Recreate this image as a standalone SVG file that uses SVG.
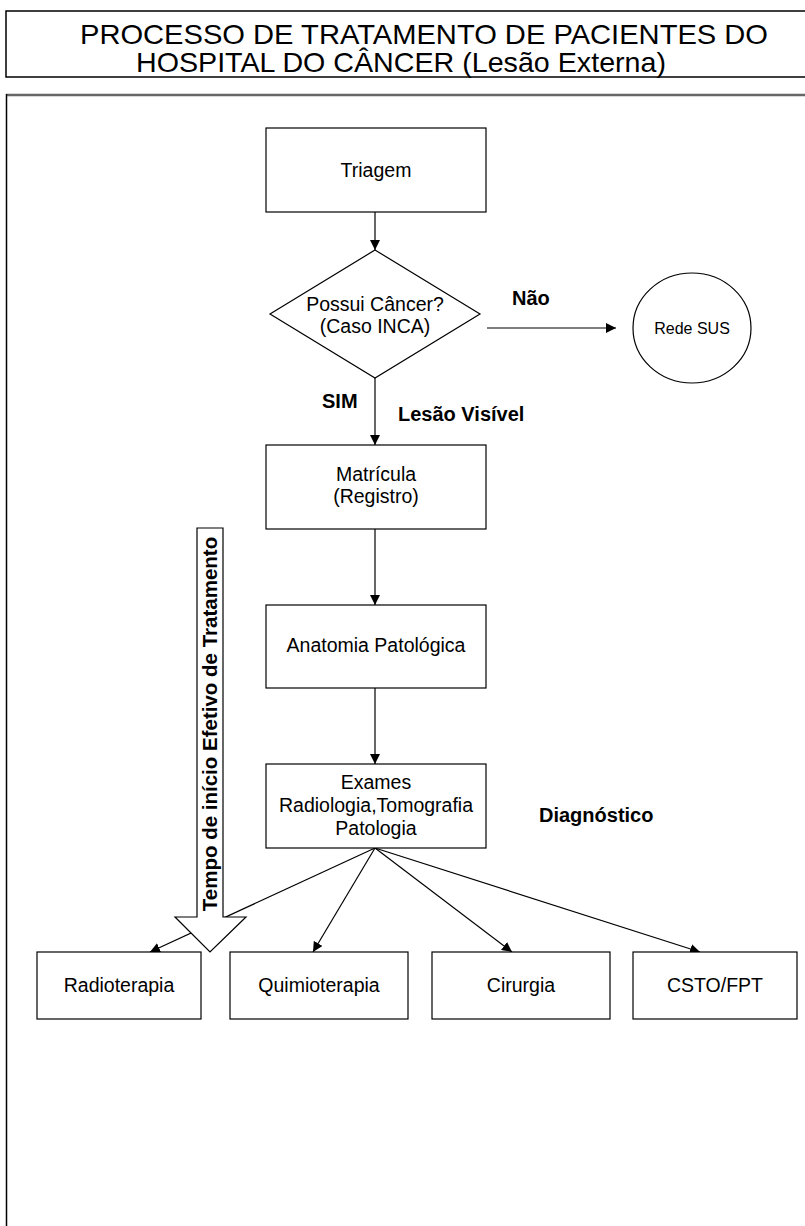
<svg xmlns="http://www.w3.org/2000/svg" width="805" height="1226" viewBox="0 0 805 1226">
<defs>
<style>
.box{fill:#fff;stroke:#000;stroke-width:1.2}
.t{font-family:"Liberation Sans",Arial,sans-serif;font-size:19.5px;fill:#000;text-anchor:middle}
.b{font-family:"Liberation Sans",Arial,sans-serif;font-size:20px;font-weight:bold;fill:#000}
.ttl{font-family:"Liberation Sans",Arial,sans-serif;font-size:28px;fill:#000}
.ln{stroke:#000;stroke-width:1.2;fill:none}
</style>
<marker id="ah" viewBox="0 0 10 10" refX="10" refY="5" markerWidth="10" markerHeight="10" markerUnits="userSpaceOnUse" orient="auto">
<path d="M0,0 L10,5 L0,10 z" fill="#000"/>
</marker>
</defs>
<rect width="805" height="1226" fill="#fff"/>
<g id="title">
<rect x="6" y="11" width="820" height="66" fill="none" stroke="#000" stroke-width="1.5"/>
<text class="ttl" x="80" y="44" textLength="688" lengthAdjust="spacingAndGlyphs">PROCESSO DE TRATAMENTO DE PACIENTES DO</text>
<text class="ttl" x="136" y="72" textLength="530" lengthAdjust="spacingAndGlyphs">HOSPITAL DO CÂNCER (Lesão Externa)</text>
</g>
<g id="frame">
<line x1="6" y1="95" x2="805" y2="95" stroke="#666" stroke-width="2.5"/>
<line x1="6.5" y1="94" x2="6.5" y2="1226" stroke="#000" stroke-width="1.5"/>
</g>
<g id="connectors">
<line class="ln" x1="375" y1="212" x2="375" y2="250" marker-end="url(#ah)"/>
<line class="ln" x1="487" y1="328" x2="616" y2="328" marker-end="url(#ah)"/>
<line class="ln" x1="375" y1="378" x2="375" y2="445" marker-end="url(#ah)"/>
<line class="ln" x1="375" y1="529" x2="375" y2="605" marker-end="url(#ah)"/>
<line class="ln" x1="375" y1="688" x2="375" y2="764" marker-end="url(#ah)"/>
<line class="ln" x1="375" y1="848" x2="150" y2="952" marker-end="url(#ah)"/>
<line class="ln" x1="375" y1="848" x2="313" y2="952" marker-end="url(#ah)"/>
<line class="ln" x1="375" y1="848" x2="512" y2="952" marker-end="url(#ah)"/>
<line class="ln" x1="375" y1="848" x2="700" y2="952" marker-end="url(#ah)"/>
</g>
<g id="triagem">
<rect class="box" x="266" y="128" width="220" height="84"/>
<text class="t" x="376" y="177">Triagem</text>
</g>
<g id="decisao">
<polygon class="box" points="375,250 480,314 375,378 270,314"/>
<text class="t" x="375" y="311">Possui Câncer?</text>
<text class="t" x="375" y="333">(Caso INCA)</text>
</g>
<g id="rede-sus">
<ellipse class="box" cx="692" cy="328" rx="59" ry="55"/>
<text class="t" x="692" y="334" style="font-size:16px">Rede SUS</text>
</g>
<g id="labels">
<text class="b" x="512" y="305">Não</text>
<text class="b" x="322" y="408">SIM</text>
<text class="b" x="398" y="421">Lesão Visível</text>
<text class="b" x="539" y="822">Diagnóstico</text>
</g>
<g id="matricula">
<rect class="box" x="266" y="445" width="220" height="84"/>
<text class="t" x="376" y="481">Matrícula</text>
<text class="t" x="376" y="503">(Registro)</text>
</g>
<g id="anatomia">
<rect class="box" x="266" y="605" width="220" height="83"/>
<text class="t" x="376" y="652">Anatomia Patológica</text>
</g>
<g id="exames">
<rect class="box" x="266" y="764" width="220" height="84"/>
<text class="t" x="376" y="789">Exames</text>
<text class="t" x="376" y="812">Radiologia,Tomografia</text>
<text class="t" x="376" y="835">Patologia</text>
</g>
<g id="tempo">
<polygon points="197,528 223,528 223,917 246,917 210,952 175,917 197,917" fill="#fff" stroke="#000" stroke-width="1.2"/>
<text class="b" transform="translate(217,724) rotate(-90)" text-anchor="middle" style="font-size:20.5px">Tempo de início Efetivo de Tratamento</text>
</g>
<g id="radioterapia">
<rect class="box" x="37" y="952" width="164" height="67"/>
<text class="t" x="119" y="992">Radioterapia</text>
</g>
<g id="quimioterapia">
<rect class="box" x="230" y="952" width="178" height="67"/>
<text class="t" x="319" y="992">Quimioterapia</text>
</g>
<g id="cirurgia">
<rect class="box" x="432" y="952" width="178" height="67"/>
<text class="t" x="521" y="992">Cirurgia</text>
</g>
<g id="csto">
<rect class="box" x="633" y="952" width="164" height="67"/>
<text class="t" x="715" y="992">CSTO/FPT</text>
</g>
</svg>
